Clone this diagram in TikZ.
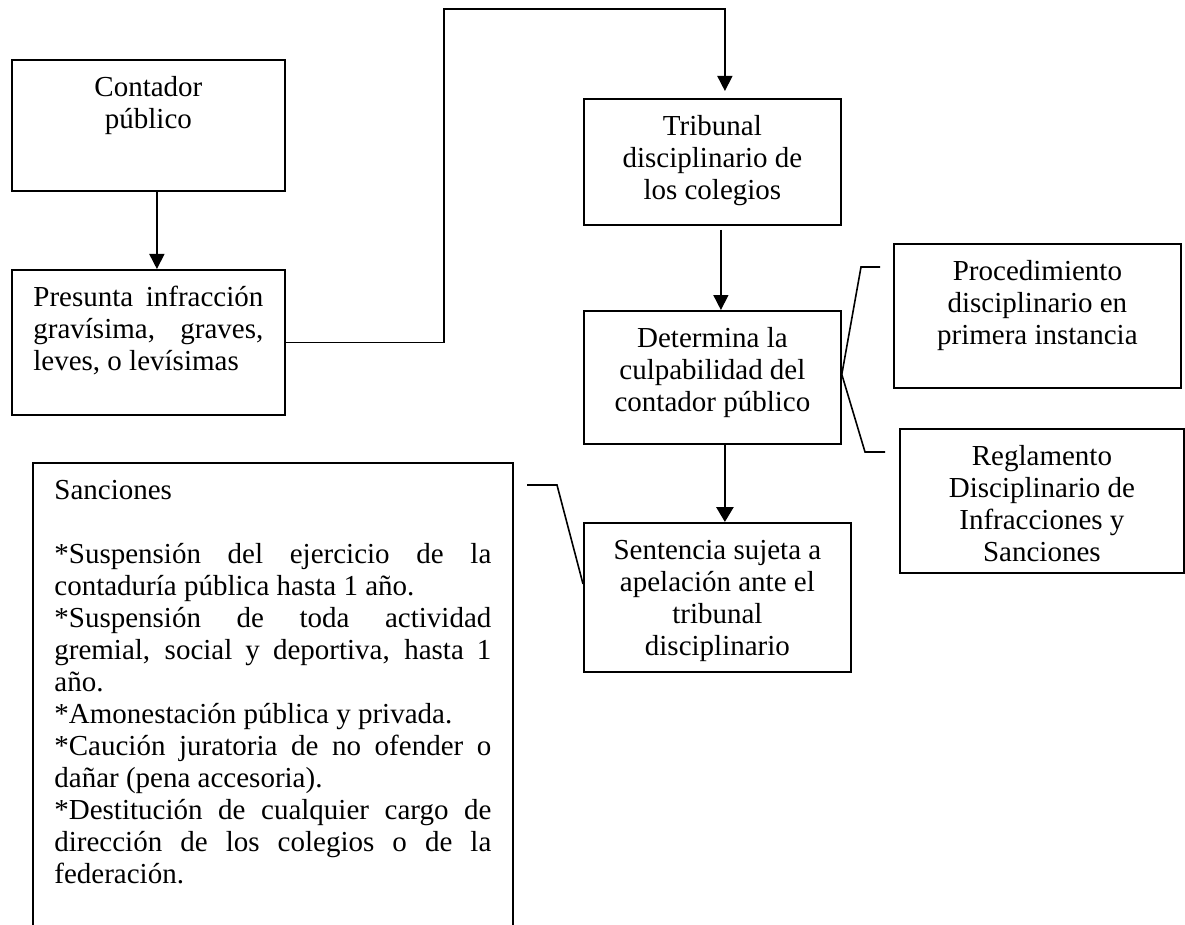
\documentclass[tikz,border=0pt]{standalone}
\usepackage{fontspec}
\setmainfont{Liberation Serif}
\usetikzlibrary{arrows.meta}
\newcommand{\bfs}{\fontsize{29pt}{32pt}\selectfont}
\newcommand{\boxc}[3]{\parbox[c][#2pt][t]{#1pt}{\centering\rule{0pt}{37pt}#3}}
\newcommand{\boxj}[3]{\parbox[c][#2pt][t]{#1pt}{\tolerance=9999\hyphenpenalty=10000\rule{0pt}{37pt}#3}}
\tikzset{
  boxst/.style={draw, line width=1.8pt, inner xsep=21.5pt, inner ysep=0pt, anchor=north west, font=\bfs},
  conn/.style={line width=1.6pt},
  arr/.style={conn, -{Triangle[length=15pt,width=15pt]}},
  arrthick/.style={line width=2.8pt, -{Triangle[length=15pt,width=17pt]}}
}
\begin{document}
\begin{tikzpicture}[x=1pt,y=-1pt]
\useasboundingbox (0,0) rectangle (1185,925);
\fill[white] (0,0) rectangle (1185,925);
\node[boxst] (contador) at (11,59) {\boxc{230}{131}{Contador\\público}};
\node[boxst] (presunta) at (11,269) {\boxj{230}{145}{Presunta infracción\linebreak gravísima, graves,\linebreak leves, o levísimas}};
\node[boxst] (tribunal) at (583,98) {\boxc{214}{126}{Tribunal\\disciplinario de\\los colegios}};
\node[boxst] (determina) at (583,310) {\boxc{214}{133}{Determina la\\culpabilidad del\\contador público}};
\node[boxst] (sentencia) at (583,522) {\boxc{224}{149}{Sentencia sujeta a\\apelación ante el\\tribunal\\disciplinario}};
\node[boxst] (proced) at (893,243) {\boxc{244}{144}{Procedimiento\\disciplinario en\\primera instancia}};
\node[boxst] (regla) at (899,428) {\boxc{241}{144}{Reglamento\\Disciplinario de\\Infracciones y\\Sanciones}};
\node[boxst] (sanciones) at (32,462) {\boxj{437}{520}{Sanciones\par\vspace{32pt}
*Suspensión del ejercicio de la\linebreak contaduría pública hasta 1 año.\par
*Suspensión de toda actividad\linebreak gremial, social y deportiva, hasta 1\linebreak año.\par
*Amonestación pública y privada.\par
*Caución juratoria de no ofender o\linebreak dañar (pena accesoria).\par
*Destitución de cualquier cargo de\linebreak dirección de los colegios o de la\linebreak federación.}};
% connectors
\coordinate (c1) at (444,9);
\draw[arr] ([xshift=8.5pt]contador.south) -- ([xshift=8.5pt]presunta.north);
\draw[arr] (presunta.east) -| (c1) -| ([xshift=12.5pt,yshift=7pt]tribunal.north);
\draw[arr] ([xshift=8.5pt,yshift=-4pt]tribunal.south) -- ([xshift=8.5pt]determina.north);
\draw[arrthick] ([xshift=12.5pt]determina.south) -- ([xshift=12.5pt]determina.south |- sentencia.north);
% callout lines
\coordinate (p1) at (861,267); \coordinate (p2) at (880,267);
\draw[conn] ([yshift=3pt]determina.east) -- (p1) -- (p2);
\coordinate (r1) at (865,452); \coordinate (r2) at (885,452);
\draw[conn] ([yshift=3pt]determina.east) -- (r1) -- (r2);
\coordinate (s1) at (527,485); \coordinate (s2) at (557,485);
\draw[conn] (s1) -- (s2) -- ([yshift=13.5pt]sentencia.west);
\end{tikzpicture}
\end{document}
